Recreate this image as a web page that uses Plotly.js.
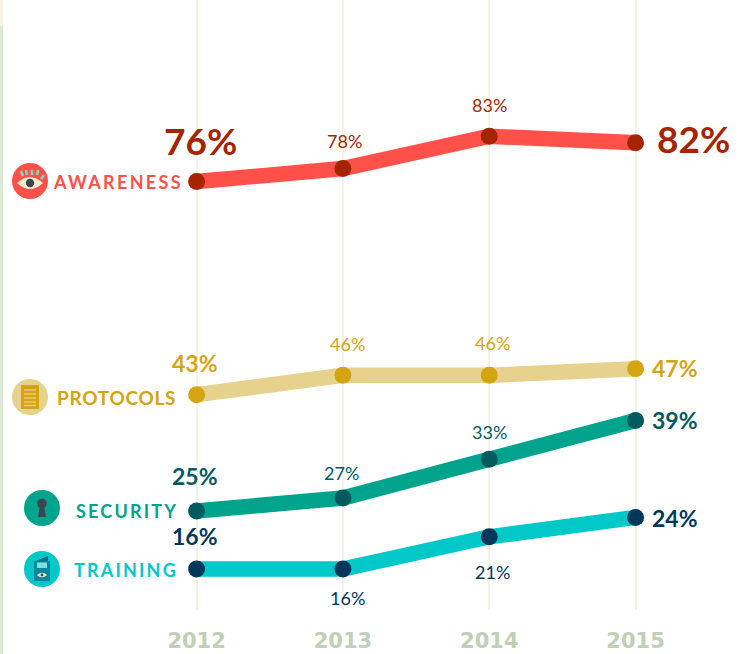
<!DOCTYPE html>
<html><head><meta charset="utf-8">
<script src="https://cdn.plot.ly/plotly-3.0.1.min.js"></script>
<style>html,body{margin:0;padding:0;background:#fff}#c{width:742px;height:654px}</style>
</head><body><div id="c"></div>
<script>
const years=[2012,2013,2014,2015];
const awareness=[76,78,83,82];
const protocols=[43,46,46,47];
const security=[25,27,33,39];
const training=[16,16,21,24];
const W=742,H=654,plotH=610;
const FONT='Lato, "Open Sans", sans-serif';
const px=x=>x/W;
const py=y=>1-y/plotH;
function tr(vals,line,dot){return [
 {x:years,y:vals,mode:'lines',line:{color:line,width:15.5},hoverinfo:'skip',type:'scatter'},
 {x:years,y:vals,mode:'markers',marker:{color:dot,size:17},hoverinfo:'skip',type:'scatter'}];}
const data=[...tr(awareness,'#ff5049','#a42500'),...tr(protocols,'#e6d28c','#d5a412'),...tr(security,'#00a38c','#005a60'),...tr(training,'#00c8c8','#00385a')];
const anns=[];
function lab(xi,v,dy,text,size,color,dx){anns.push({x:years[xi],y:v,xref:'x',yref:'y',text:text,showarrow:false,xanchor:'center',yanchor:'middle',xshift:dx||0,yshift:-dy,font:{family:FONT,size:size,color:color}});}
const B=t=>'<b>'+t+'</b>';
lab(0,76,-41,B('76%'),37,'#a42500',4);lab(1,78,-28,'78%',18,'#a42500',2);lab(2,83,-31,'83%',18,'#a42500',0);lab(3,82,-4,B('82%'),37,'#a42500',58);
lab(0,43,-32,B('43%'),23,'#d5a412',-2);lab(1,46,-31,'46%',18,'#d5a412',5);lab(2,46,-32,'46%',18,'#d5a412',3);lab(3,47,-1,B('47%'),23,'#d5a412',39);
lab(0,25,-35,B('25%'),23,'#005a60',-2);lab(1,27,-25,'27%',18,'#005a60',-1);lab(2,33,-27,'33%',18,'#005a60',0);lab(3,39,-1,B('39%'),23,'#005a60',39);
lab(0,16,-33,B('16%'),23,'#00385a',-2);lab(1,16,29,'16%',18,'#00385a',5);lab(2,21,35,'21%',18,'#00385a',3);lab(3,24,1,B('24%'),23,'#00385a',39);
function name(t,xr,y,c,sp,size){anns.push({xref:'paper',yref:'paper',x:px(xr),y:py(y),xanchor:'right',yanchor:'middle',showarrow:false,
 text:'<span style="letter-spacing:'+sp+'px;font-weight:700">'+t+'</span>',font:{family:FONT,size:size||18,color:c}});}
name('AWARENESS',185,182,'#ff5049',2.3);
name('PROTOCOLS',178,397,'#d5a412',0.7,19);
name('SECURITY',180,511,'#00a38c',2.2);
name('TRAINING',180,570,'#00c8c8',2.2);
const shapes=[];
function rect(x0,y0,x1,y1,c){shapes.push({type:'rect',xref:'paper',yref:'paper',x0:px(x0),x1:px(x1),y0:py(y0),y1:py(y1),fillcolor:c,line:{width:0},layer:'above'});}
function circ(cx,cy,r,c){shapes.push({type:'circle',xref:'paper',yref:'paper',x0:px(cx-r),x1:px(cx+r),y0:py(cy-r),y1:py(cy+r),fillcolor:c,line:{width:0},layer:'above'});}
function seg(x0,y0,x1,y1,c,w){shapes.push({type:'line',xref:'paper',yref:'paper',x0:px(x0),x1:px(x1),y0:py(y0),y1:py(y1),line:{color:c,width:w},layer:'above'});}
function poly(pts,c){shapes.push({type:'path',xref:'paper',yref:'paper',path:'M '+pts.map(p=>px(p[0])+' '+py(p[1])).join(' L ')+' Z',fillcolor:c,line:{width:0},layer:'above'});}
rect(0,0,3,26,'#f6f1e2');
rect(0,26,3,654,'#dfe8d6');
circ(30,181,18,'#ff5049');
shapes.push({type:'path',xref:'paper',yref:'paper',path:`M ${px(17)} ${py(183)} Q ${px(30)} ${py(171)} ${px(43)} ${py(183)} Q ${px(30)} ${py(195)} ${px(17)} ${py(183)} Z`,fillcolor:'#fbeacb',line:{width:0},layer:'above'});
circ(30,183,4.2,'#3c4650');
[[21,171,23,176],[26,170,27,175],[32,170,32,175],[38,170,37,175],[44,175,41,179]].forEach(a=>seg(a[0],a[1],a[2],a[3],'#7fd6c0',2.6));
circ(30,397,18,'#e6d28c');
rect(21,385,39,409,'#d5a412');
[390,394,398,402,405.5].forEach(y=>rect(24,y-0.7,36,y+0.7,'#e8cf78'));
circ(42,508,18,'#00a38c');
circ(42,503.5,4.8,'#3c4650');
poly([[40,506],[44,506],[46,517],[38,517]],'#3c4650');
circ(42,569,18,'#00c8c8');
poly([[36,561],[48,556],[48,561]],'#006f85');
rect(34,561,50,581,'#008b9c');
rect(37,562.5,47,568,'#7fdfe0');
shapes.push({type:'path',xref:'paper',yref:'paper',path:`M ${px(37)} ${py(575)} Q ${px(42)} ${py(570.5)} ${px(47)} ${py(575)} Q ${px(42)} ${py(579.5)} ${px(37)} ${py(575)} Z`,fillcolor:'#fbeacb',line:{width:0},layer:'above'});
circ(42,575,1.4,'#3c4650');
const layout={width:W,height:H,margin:{l:0,r:0,t:0,b:44,pad:0},paper_bgcolor:'#fff',plot_bgcolor:'#fff',showlegend:false,
 xaxis:{range:[2012-196.6/146.33,2012+(742-196.6)/146.33],tickvals:years,ticktext:years.map(B),showgrid:true,gridcolor:'#f6f3e6',gridwidth:2,zeroline:false,showline:false,ticks:'',ticklabelstandoff:16,tickfont:{family:'"DejaVu Sans", sans-serif',size:21,color:'#bfd0b4'},automargin:false},
 yaxis:{range:[76-(610-181.5)/6.46,76+181.5/6.46],visible:false,showgrid:false,zeroline:false,fixedrange:true},
 annotations:anns,shapes:shapes};
Plotly.newPlot('c',data,layout,{staticPlot:true,displayModeBar:false});
</script></body></html>
